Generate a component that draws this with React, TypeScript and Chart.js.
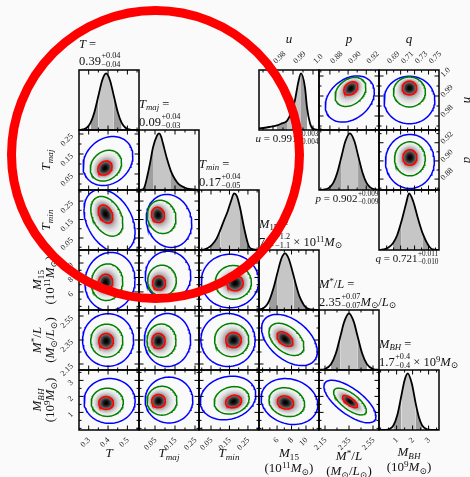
import React, { useEffect, useRef } from "react";
import { Chart, registerables } from "chart.js";

Chart.register(...registerables);

// ---------------- main parameters (T, Tmaj, Tmin, M15, M*/L, MBH) ----------------
const MAIN_MIN = [0.25, -0.03, -0.015, 3.5, 2.1, -0.1];
const MAIN_MAX = [0.56, 0.27, 0.31, 11.8, 2.6, 3.65];
const MAIN_MAJOR = [[0.3, 0.4, 0.5], [0.05, 0.15, 0.25], [0.05, 0.15, 0.25], [6, 8, 10], [2.15, 2.35, 2.55], [1, 2, 3]];
const MAIN_MAJOR_LABELS = [["0.3", "0.4", "0.5"], ["0.05", "0.15", "0.25"], ["0.05", "0.15", "0.25"], ["6", "8", "10"], ["2.15", "2.35", "2.55"], ["1", "2", "3"]];
const MAIN_MINOR = [[0.35, 0.45, 0.55], [0, 0.1, 0.2], [0, 0.1, 0.2, 0.3], [4, 5, 7, 9, 11], [2.25, 2.45], [0, 0.5, 1.5, 2.5, 3.5]];

// 1D marginals (x values, relative density)
const T_HX = [0.25, 0.27, 0.29, 0.31, 0.33, 0.35, 0.37, 0.39, 0.41, 0.43, 0.45, 0.47, 0.49, 0.51, 0.53, 0.56];
const T_HY = [0, 0.01, 0.04, 0.13, 0.32, 0.6, 0.88, 1.0, 0.88, 0.6, 0.32, 0.13, 0.04, 0.01, 0, 0];
const T_Q = [0.31, 0.35, 0.43, 0.47];
const TMAJ_HX = [-0.03, -0.01, 0.0, 0.01, 0.025, 0.04, 0.06, 0.07, 0.08, 0.09, 0.11, 0.13, 0.15, 0.17, 0.2, 0.23, 0.27];
const TMAJ_HY = [0, 0.01, 0.08, 0.22, 0.47, 0.75, 0.96, 1.0, 0.95, 0.82, 0.55, 0.33, 0.19, 0.1, 0.04, 0.015, 0];
const TMAJ_Q = [0.0, 0.04, 0.13, 0.2];
const TMIN_HX = [-0.015, 0.01, 0.03, 0.055, 0.08, 0.1, 0.12, 0.14, 0.16, 0.175, 0.19, 0.207, 0.23, 0.256, 0.28, 0.31];
const TMIN_HY = [0, 0.005, 0.03, 0.09, 0.2, 0.35, 0.52, 0.68, 0.88, 1.0, 0.95, 0.75, 0.38, 0.06, 0.01, 0];
const TMIN_Q = [0.055, 0.1, 0.207, 0.256];
const M15_HX = [3.5, 4.1, 4.6, 4.9, 5.6, 6.0, 6.6, 7.1, 7.6, 8.3, 8.6, 9.1, 9.7, 10.1, 10.6, 11.8];
const M15_HY = [0.007, 0.033, 0.094, 0.16, 0.43, 0.63, 0.91, 1.0, 0.91, 0.6, 0.45, 0.24, 0.09, 0.035, 0.01, 0];
const M15_Q = [4.9, 6.0, 8.3, 10.1];
const ML_HX = [2.1, 2.15, 2.2, 2.24, 2.28, 2.31, 2.35, 2.39, 2.42, 2.46, 2.5, 2.55, 2.6];
const ML_HY = [0.002, 0.017, 0.1, 0.29, 0.61, 0.85, 1.0, 0.85, 0.61, 0.29, 0.1, 0.017, 0.002];
const ML_Q = [2.2, 2.28, 2.42, 2.5];
const MBH_HX = [-0.1, 0.3, 0.55, 0.8, 1.05, 1.3, 1.5, 1.7, 1.95, 2.2, 2.4, 2.6, 2.9, 3.2, 3.65];
const MBH_HY = [0, 0.002, 0.016, 0.08, 0.27, 0.61, 0.88, 1.0, 0.82, 0.46, 0.22, 0.08, 0.011, 0.001, 0];
const MBH_Q = [0.8, 1.3, 2.2, 2.6];

const MAIN_HX = [T_HX, TMAJ_HX, TMIN_HX, M15_HX, ML_HX, MBH_HX];
const MAIN_HY = [T_HY, TMAJ_HY, TMIN_HY, M15_HY, ML_HY, MBH_HY];
const MAIN_HQ = [T_Q, TMAJ_Q, TMIN_Q, M15_Q, ML_Q, MBH_Q];

// 2D posteriors: peak, spread (red-contour half widths), correlation, drift of outer contour
const PAIR_ROW = [1, 2, 3, 4, 5, 2, 3, 4, 5, 3, 4, 5, 4, 5, 5];
const PAIR_COL = [0, 0, 0, 0, 0, 1, 1, 1, 1, 2, 2, 2, 3, 3, 4];
const PAIR_PEAK_X = [0.384, 0.387, 0.387, 0.39, 0.39, 0.065, 0.07, 0.0675, 0.0675, 0.18, 0.172, 0.172, 7.09, 7.16, 2.358];
const PAIR_PEAK_Y = [0.08, 0.18, 7.3, 2.342, 1.59, 0.175, 7.23, 2.342, 1.71, 7.23, 2.35, 1.68, 2.358, 1.62, 1.68];
const PAIR_SIG_X = [0.0367, 0.0377, 0.037, 0.0377, 0.0377, 0.0325, 0.0325, 0.033, 0.034, 0.0444, 0.042, 0.043, 1.1, 1.12, 0.062];
const PAIR_SIG_Y = [0.035, 0.0488, 1.15, 0.0625, 0.4, 0.041, 0.97, 0.063, 0.41, 1.06, 0.063, 0.39, 0.061, 0.41, 0.38];
const PAIR_RHO = [0.2, -0.35, 0.05, 0, 0, -0.1, 0, 0, 0, 0, 0, 0.15, -0.45, -0.15, -0.7];
const PAIR_SHIFT_X = [0.0155, 0.0207, 0.023, 0.0103, 0.018, 0.055, 0.045, 0.045, 0.0525, -0.027, -0.03, -0.03, 0.62, 0.55, 0];
const PAIR_SHIFT_Y = [0.035, -0.038, 0.14, 0.008, 0.125, -0.0325, 1.0, 0.008, 0.06, 0.28, 0, 0.22, -0.008, 0.06, 0];

// ---------------- inset parameters (u, p, q) ----------------
const INSET_MIN = [0.973, 0.868, 0.679];
const INSET_MAX = [1.003, 0.934, 0.765];
const INSET_MAJOR = [[0.98, 0.99, 1.0], [0.88, 0.9, 0.92], [0.69, 0.71, 0.73, 0.75]];
const INSET_MAJOR_LABELS = [["0.98", "0.99", "1.0"], ["0.88", "0.90", "0.92"], ["0.69", "0.71", "0.73", "0.75"]];
const INSET_MINOR = [[0.975, 0.985, 0.995], [0.87, 0.89, 0.91, 0.93], [0.68, 0.7, 0.72, 0.74, 0.76]];

const U_HX = [0.973, 0.976, 0.979, 0.982, 0.984, 0.987, 0.989, 0.991, 0.9925, 0.994, 0.996, 0.997, 0.9985, 1.0, 1.003];
const U_HY = [0.03, 0.04, 0.06, 0.08, 0.11, 0.16, 0.3, 0.53, 0.82, 1.0, 0.75, 0.4, 0.12, 0.02, 0];
const U_Q = [0.982, 0.987, 0.994, 0.997];
const P_HX = [0.868, 0.872, 0.876, 0.88, 0.884, 0.888, 0.893, 0.897, 0.902, 0.907, 0.911, 0.916, 0.92, 0.924, 0.928, 0.934];
const P_HY = [0.001, 0.004, 0.015, 0.05, 0.135, 0.3, 0.61, 0.86, 1.0, 0.86, 0.61, 0.3, 0.135, 0.05, 0.015, 0.002];
const P_Q = [0.88, 0.893, 0.911, 0.924];
const Q_HX = [0.679, 0.685, 0.692, 0.699, 0.705, 0.7115, 0.718, 0.722, 0.728, 0.735, 0.742, 0.7495, 0.756, 0.765];
const Q_HY = [0, 0.01, 0.04, 0.12, 0.26, 0.52, 0.83, 1.0, 0.86, 0.55, 0.28, 0.09, 0.01, 0];
const Q_Q = [0.699, 0.7115, 0.742, 0.7495];

const INSET_HX = [U_HX, P_HX, Q_HX];
const INSET_HY = [U_HY, P_HY, Q_HY];
const INSET_HQ = [U_Q, P_Q, Q_Q];

const IPAIR_Y = [0, 0, 1];
const IPAIR_X = [1, 2, 2];
const IPAIR_PEAK_X = [0.903, 0.7226, 0.7233];
const IPAIR_PEAK_Y = [0.9938, 0.994, 0.9038];
const IPAIR_SIG_X = [0.0077, 0.0104, 0.01];
const IPAIR_SIG_Y = [0.0033, 0.0034, 0.0085];
const IPAIR_RHO = [0.3, 0, 0];
const IPAIR_SHIFT_X = [-0.0011, 0, 0];
const IPAIR_SHIFT_Y = [-0.0053, -0.006, -0.0044];

// ---------------- layout & style ----------------
const BG = "#fafafa";
const GRID_LEFT = 79;
const GRID_TOP = 70;
const CELL = 60;
const PAD = 40;
const LIGHT = "#c6c6c6";
const DARK = "#9e9e9e";
const S_RED = 1;
const S_GREEN = 2.2;
const S_BLUE = 3.5;
const GRAY_LEVELS = [3.0, 2.6, 2.3, 2.05, 1.85, 1.65, 1.5, 1.35, 1.2, 1.08, 0.96, 0.85, 0.74, 0.64, 0.54, 0.45, 0.36, 0.28, 0.2, 0.12];
const TICK_FONT = '8px "Liberation Serif", serif';

type PairSpec = { px: number; py: number; sx: number; sy: number; rho: number; shx: number; shy: number };

function ring(p: PairSpec, s: number) {
  const f = s <= 1 ? 0 : Math.pow((s - 1) / (S_BLUE - 1), 1.5);
  const cx = p.px + p.shx * f;
  const cy = p.py + p.shy * f;
  const r = Math.sqrt(1 - p.rho * p.rho);
  const pts: { x: number; y: number }[] = [];
  const N = 96;
  for (let k = 0; k <= N; k++) {
    const t = (k / N) * 2 * Math.PI;
    const c = Math.cos(t);
    const sn = Math.sin(t);
    pts.push({ x: cx + p.sx * s * c, y: cy + p.sy * s * (p.rho * c + r * sn) });
  }
  return pts;
}

function grayFor(i: number) {
  const s = GRAY_LEVELS[i];
  const next = i + 1 < GRAY_LEVELS.length ? GRAY_LEVELS[i + 1] : 0;
  const se = (s + next) / 2;
  const g = Math.min(250, Math.round(255 * (1 - Math.exp(-0.75 * se * se))));
  return `rgb(${g},${g},${g})`;
}

type FrameOpts = {
  xMajor: number[];
  xMinor: number[];
  yMajor?: number[];
  yMinor?: number[];
  xLabels?: string[] | null;
  xSide?: "bottom" | "top";
  yLabels?: string[] | null;
  ySide?: "left" | "right";
};

function framePlugin(o: FrameOpts) {
  return {
    id: "frameTicks",
    afterDraw(chart: any) {
      const { ctx, chartArea: a, scales } = chart;
      const xs = scales.x;
      const ys = scales.y;
      ctx.save();
      ctx.strokeStyle = "#000";
      ctx.lineWidth = 1;
      ctx.beginPath();
      const xt = (vals: number[], len: number) =>
        vals.forEach((v) => {
          const px = xs.getPixelForValue(v);
          if (px < a.left + 1 || px > a.right - 1) return;
          ctx.moveTo(px, a.bottom);
          ctx.lineTo(px, a.bottom - len);
          ctx.moveTo(px, a.top);
          ctx.lineTo(px, a.top + len);
        });
      const yt = (vals: number[], len: number) =>
        vals.forEach((v) => {
          const py = ys.getPixelForValue(v);
          if (py < a.top + 1 || py > a.bottom - 1) return;
          ctx.moveTo(a.left, py);
          ctx.lineTo(a.left + len, py);
          ctx.moveTo(a.right, py);
          ctx.lineTo(a.right - len, py);
        });
      xt(o.xMajor, 4.5);
      xt(o.xMinor, 2.5);
      if (o.yMajor) yt(o.yMajor, 4.5);
      if (o.yMinor) yt(o.yMinor, 2.5);
      ctx.stroke();
      ctx.lineWidth = 1.5;
      ctx.strokeRect(a.left, a.top, a.right - a.left, a.bottom - a.top);

      ctx.fillStyle = "#1a1a1a";
      ctx.font = TICK_FONT;
      ctx.textBaseline = "middle";
      if (o.xLabels) {
        o.xMajor.forEach((v, i) => {
          const px = xs.getPixelForValue(v);
          ctx.save();
          if (o.xSide === "top") {
            ctx.translate(px + 1.8, a.top - 7.5);
            ctx.rotate(-Math.PI / 4);
            ctx.textAlign = "left";
          } else {
            ctx.translate(px + 0.5, a.bottom + 9);
            ctx.rotate(-Math.PI / 4);
            ctx.textAlign = "right";
          }
          ctx.fillText(o.xLabels![i], 0, 0);
          ctx.restore();
        });
      }
      if (o.yLabels && o.yMajor) {
        o.yMajor.forEach((v, i) => {
          const py = ys.getPixelForValue(v);
          ctx.save();
          if (o.ySide === "right") {
            ctx.translate(a.right + 3, py);
            ctx.rotate(-Math.PI / 4);
            ctx.textAlign = "left";
          } else {
            ctx.translate(a.left - 7, py + 1);
            ctx.rotate(-Math.PI / 4);
            ctx.textAlign = "right";
          }
          ctx.fillText(o.yLabels![i], 0, 0);
          ctx.restore();
        });
      }
      ctx.restore();
    },
  };
}

function baseOptions(xmin: number, xmax: number, ymin: number, ymax: number) {
  return {
    responsive: false,
    animation: false,
    devicePixelRatio: 1,
    events: [],
    layout: { padding: PAD },
    plugins: { legend: { display: false }, tooltip: { enabled: false }, title: { display: false } },
    scales: {
      x: { type: "linear", min: xmin, max: xmax, display: false },
      y: { type: "linear", min: ymin, max: ymax, display: false },
    },
    elements: { point: { radius: 0 } },
  };
}

function histConfig(xs: number[], ys: number[], q: number[], xmin: number, xmax: number, fo: FrameOpts) {
  const pts = xs.map((x, i) => ({ x, y: ys[i] }));
  const shade = (c: any) => {
    const m = (c.p0.parsed.x + c.p1.parsed.x) / 2;
    if (m >= q[1] && m <= q[2]) return LIGHT;
    if (m >= q[0] && m <= q[3]) return DARK;
    return "rgba(0,0,0,0)";
  };
  return {
    type: "scatter",
    data: {
      datasets: [
        { data: pts, showLine: true, fill: false, borderColor: "#000", borderWidth: 1.8, pointRadius: 0, cubicInterpolationMode: "monotone", order: 1 },
        {
          data: pts, showLine: true, fill: "origin", backgroundColor: DARK, borderColor: "rgba(0,0,0,0)", borderWidth: 0,
          pointRadius: 0, cubicInterpolationMode: "monotone", segment: { backgroundColor: shade }, order: 2,
        },
      ],
    },
    options: baseOptions(xmin, xmax, 0, 1.06),
    plugins: [framePlugin(fo)],
  };
}

function pairConfig(p: PairSpec, xmin: number, xmax: number, ymin: number, ymax: number, fo: FrameOpts) {
  const datasets: any[] = [];
  GRAY_LEVELS.forEach((s, i) =>
    datasets.push({ data: ring(p, s), showLine: true, fill: "shape", backgroundColor: grayFor(i), borderColor: "rgba(0,0,0,0)", borderWidth: 0, pointRadius: 0 })
  );
  const lines: [string, number][] = [["#0000ff", S_BLUE], ["#008000", S_GREEN], ["#ff0000", S_RED]];
  lines.forEach(([c, s]) => datasets.push({ data: ring(p, s), showLine: true, fill: false, borderColor: c, borderWidth: 1.5, pointRadius: 0 }));
  const n = datasets.length;
  datasets.forEach((d, i) => (d.order = n - i));
  return { type: "scatter", data: { datasets }, options: baseOptions(xmin, xmax, ymin, ymax), plugins: [framePlugin(fo)] };
}

function ChartPanel({ left, top, make }: { left: number; top: number; make: () => any }) {
  const ref = useRef<HTMLCanvasElement>(null);
  useEffect(() => {
    const chart = new Chart(ref.current as HTMLCanvasElement, make());
    return () => chart.destroy();
  }, []);
  const size = CELL + 2 * PAD;
  return (
    <canvas
      ref={ref}
      width={size}
      height={size}
      style={{ position: "absolute", left: left - PAD, top: top - PAD, width: size, height: size, pointerEvents: "none" }}
    />
  );
}

// ---------------- text helpers ----------------
const I = ({ children }: any) => <i>{children}</i>;
const Sb = ({ children }: any) => <span style={{ fontSize: "0.7em", position: "relative", top: "0.28em" }}>{children}</span>;
const Sp = ({ children }: any) => <span style={{ fontSize: "0.7em", position: "relative", top: "-0.42em" }}>{children}</span>;
const PM = ({ up, dn }: any) => (
  <span style={{ display: "inline-block", verticalAlign: "-2px", fontSize: "0.66em", lineHeight: "1.05em", marginLeft: 0.5 }}>
    <span style={{ display: "block" }}>{up}</span>
    <span style={{ display: "block" }}>{dn}</span>
  </span>
);
const SUN = "⊙";

function Title({ left, top, l1, l2 }: any) {
  return (
    <div style={{ position: "absolute", left, top, fontSize: 12.5, lineHeight: "15px", whiteSpace: "nowrap", color: "#111" }}>
      <div>{l1}</div>
      <div>{l2}</div>
    </div>
  );
}

function XLab({ cx, top, children }: any) {
  return (
    <div style={{ position: "absolute", left: cx, top, transform: "translateX(-50%)", textAlign: "center", fontSize: 13, lineHeight: "13px", whiteSpace: "nowrap", color: "#111" }}>
      {children}
    </div>
  );
}

function YLab({ cx, cy, children }: any) {
  return (
    <div style={{ position: "absolute", left: cx, top: cy, transform: "translate(-50%,-50%) rotate(-90deg)", textAlign: "center", fontSize: 13, lineHeight: "12px", whiteSpace: "nowrap", color: "#111" }}>
      {children}
    </div>
  );
}

export default function App() {
  const panels: { key: string; left: number; top: number; make: () => any }[] = [];

  for (let i = 0; i < 6; i++) {
    panels.push({
      key: `h${i}`,
      left: GRID_LEFT + CELL * i,
      top: GRID_TOP + CELL * i,
      make: () =>
        histConfig(MAIN_HX[i], MAIN_HY[i], MAIN_HQ[i], MAIN_MIN[i], MAIN_MAX[i], {
          xMajor: MAIN_MAJOR[i], xMinor: MAIN_MINOR[i], xLabels: i === 5 ? MAIN_MAJOR_LABELS[i] : null, xSide: "bottom",
        }),
    });
  }
  PAIR_ROW.forEach((r, k) => {
    const c = PAIR_COL[k];
    const spec: PairSpec = { px: PAIR_PEAK_X[k], py: PAIR_PEAK_Y[k], sx: PAIR_SIG_X[k], sy: PAIR_SIG_Y[k], rho: PAIR_RHO[k], shx: PAIR_SHIFT_X[k], shy: PAIR_SHIFT_Y[k] };
    panels.push({
      key: `p${k}`,
      left: GRID_LEFT + CELL * c,
      top: GRID_TOP + CELL * r,
      make: () =>
        pairConfig(spec, MAIN_MIN[c], MAIN_MAX[c], MAIN_MIN[r], MAIN_MAX[r], {
          xMajor: MAIN_MAJOR[c], xMinor: MAIN_MINOR[c], yMajor: MAIN_MAJOR[r], yMinor: MAIN_MINOR[r],
          xLabels: r === 5 ? MAIN_MAJOR_LABELS[c] : null, xSide: "bottom",
          yLabels: c === 0 ? MAIN_MAJOR_LABELS[r] : null, ySide: "left",
        }),
    });
  });
  for (let i = 0; i < 3; i++) {
    panels.push({
      key: `ih${i}`,
      left: GRID_LEFT + CELL * (3 + i),
      top: GRID_TOP + CELL * i,
      make: () =>
        histConfig(INSET_HX[i], INSET_HY[i], INSET_HQ[i], INSET_MIN[i], INSET_MAX[i], {
          xMajor: INSET_MAJOR[i], xMinor: INSET_MINOR[i], xLabels: i === 0 ? INSET_MAJOR_LABELS[i] : null, xSide: "top",
        }),
    });
  }
  IPAIR_Y.forEach((r, k) => {
    const c = IPAIR_X[k];
    const spec: PairSpec = { px: IPAIR_PEAK_X[k], py: IPAIR_PEAK_Y[k], sx: IPAIR_SIG_X[k], sy: IPAIR_SIG_Y[k], rho: IPAIR_RHO[k], shx: IPAIR_SHIFT_X[k], shy: IPAIR_SHIFT_Y[k] };
    panels.push({
      key: `ip${k}`,
      left: GRID_LEFT + CELL * (3 + c),
      top: GRID_TOP + CELL * r,
      make: () =>
        pairConfig(spec, INSET_MIN[c], INSET_MAX[c], INSET_MIN[r], INSET_MAX[r], {
          xMajor: INSET_MAJOR[c], xMinor: INSET_MINOR[c], yMajor: INSET_MAJOR[r], yMinor: INSET_MINOR[r],
          xLabels: r === 0 ? INSET_MAJOR_LABELS[c] : null, xSide: "top",
          yLabels: c === 2 ? INSET_MAJOR_LABELS[r] : null, ySide: "right",
        }),
    });
  });

  const colC = (i: number) => GRID_LEFT + CELL * i + CELL / 2;
  const rowC = (i: number) => GRID_TOP + CELL * i + CELL / 2;
  const rowT = (i: number) => GRID_TOP + CELL * i;

  return (
    <div style={{ position: "fixed", left: 0, top: 0, width: 470, height: 477, overflow: "hidden", background: BG, fontFamily: '"Liberation Serif", "DejaVu Serif", serif', color: "#111" }}>
      {panels.map((p) => (
        <ChartPanel key={p.key} left={p.left} top={p.top} make={p.make} />
      ))}

      {/* titles above main marginals */}
      <Title left={79} top={rowT(0) - 33} l1={<><I>T</I> =</>} l2={<>0.39<PM up="+0.04" dn="−0.04" /></>} />
      <Title left={139} top={rowT(1) - 33} l1={<><I>T<Sb>maj</Sb></I> =</>} l2={<>0.09<PM up="+0.04" dn="−0.03" /></>} />
      <Title left={199} top={rowT(2) - 33} l1={<><I>T<Sb>min</Sb></I> =</>} l2={<>0.17<PM up="+0.04" dn="−0.05" /></>} />
      <Title left={259} top={rowT(3) - 33} l1={<><I>M</I><Sb>15</Sb> =</>} l2={<>7.1<PM up="+1.2" dn="−1.1" /> × 10<Sp>11</Sp><I>M</I><Sb>{SUN}</Sb></>} />
      <Title left={319} top={rowT(4) - 33} l1={<><I>M</I><Sp>*</Sp>/<I>L</I> =</>} l2={<>2.35<PM up="+0.07" dn="−0.07" /><I>M</I><Sb>{SUN}</Sb>/<I>L</I><Sb>{SUN}</Sb></>} />
      <Title left={379} top={rowT(5) - 33} l1={<><I>M<Sb>BH</Sb></I> =</>} l2={<>1.7<PM up="+0.4" dn="−0.4" /> × 10<Sp>9</Sp><I>M</I><Sb>{SUN}</Sb></>} />

      {/* bottom axis labels */}
      <XLab cx={colC(0)} top={446}><I>T</I></XLab>
      <XLab cx={colC(1)} top={446}><I>T<Sb>maj</Sb></I></XLab>
      <XLab cx={colC(2)} top={446}><I>T<Sb>min</Sb></I></XLab>
      <XLab cx={colC(3)} top={446}><div><I>M</I><Sb>15</Sb></div><div>(10<Sp>11</Sp><I>M</I><Sb>{SUN}</Sb>)</div></XLab>
      <XLab cx={colC(4)} top={449}><div><I>M</I><Sp>*</Sp>/<I>L</I></div><div>(<I>M</I><Sb>{SUN}</Sb>/<I>L</I><Sb>{SUN}</Sb>)</div></XLab>
      <XLab cx={colC(5)} top={445}><div><I>M<Sb>BH</Sb></I></div><div>(10<Sp>9</Sp><I>M</I><Sb>{SUN}</Sb>)</div></XLab>

      {/* left axis labels */}
      <YLab cx={46} cy={rowC(1)}><I>T<Sb>maj</Sb></I></YLab>
      <YLab cx={46} cy={rowC(2)}><I>T<Sb>min</Sb></I></YLab>
      <YLab cx={44} cy={rowC(3)}><div><I>M</I><Sb>15</Sb></div><div>(10<Sp>11</Sp><I>M</I><Sb>{SUN}</Sb>)</div></YLab>
      <YLab cx={44} cy={rowC(4)}><div><I>M</I><Sp>*</Sp>/<I>L</I></div><div>(<I>M</I><Sb>{SUN}</Sb>/<I>L</I><Sb>{SUN}</Sb>)</div></YLab>
      <YLab cx={44} cy={rowC(5)}><div><I>M<Sb>BH</Sb></I></div><div>(10<Sp>9</Sp><I>M</I><Sb>{SUN}</Sb>)</div></YLab>

      {/* inset labels */}
      <XLab cx={colC(3)} top={32}><I>u</I></XLab>
      <XLab cx={colC(4)} top={32}><I>p</I></XLab>
      <XLab cx={colC(5)} top={32}><I>q</I></XLab>
      <YLab cx={466} cy={rowC(0)}><I>u</I></YLab>
      <YLab cx={466} cy={rowC(1)}><I>p</I></YLab>
      <div style={{ position: "absolute", left: colC(3) - 2, top: rowT(1) + 1, transform: "translateX(-50%)", fontSize: 11, lineHeight: "13px", whiteSpace: "nowrap" }}>
        <I>u</I> = 0.991<PM up="+0.003" dn="−0.004" />
      </div>
      <div style={{ position: "absolute", left: colC(4) - 2, top: rowT(2) + 1, transform: "translateX(-50%)", fontSize: 11, lineHeight: "13px", whiteSpace: "nowrap" }}>
        <I>p</I> = 0.902<PM up="+0.009" dn="−0.009" />
      </div>
      <div style={{ position: "absolute", left: colC(5) - 2, top: rowT(3) + 1, transform: "translateX(-50%)", fontSize: 11, lineHeight: "13px", whiteSpace: "nowrap" }}>
        <I>q</I> = 0.721<PM up="+0.011" dn="−0.010" />
      </div>

      {/* red annotation ring */}
      <div style={{ position: "absolute", left: 155 - 148.5, top: 154 - 148.5, width: 297, height: 297, border: "9px solid #ff0000", borderRadius: "50%", boxSizing: "border-box", pointerEvents: "none" }} />
    </div>
  );
}
